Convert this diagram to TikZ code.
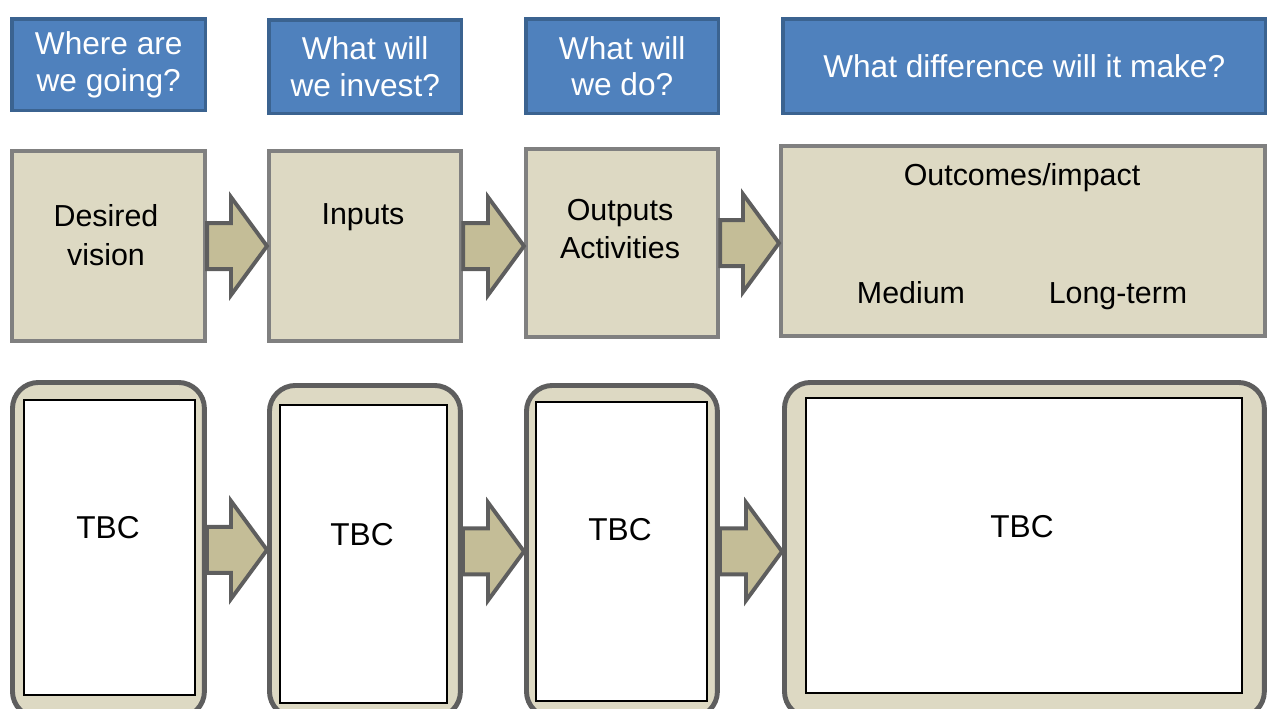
\documentclass[tikz,border=0pt]{standalone}
\usepackage{fontspec}
\setmainfont{Liberation Sans}
\usetikzlibrary{calc}

\definecolor{headblue}{HTML}{4F81BD}
\definecolor{headedge}{HTML}{3B6390}
\definecolor{stagetan}{HTML}{DDD9C3}
\definecolor{arrowtan}{HTML}{C4BD97}
\definecolor{stageedge}{HTML}{808080}
\definecolor{darkedge}{HTML}{5E5E5E}

\tikzset{
  question/.style={draw=headedge, fill=headblue, line width=2pt, text=white, align=center,
    inner sep=0pt, anchor=north west, font=\fontsize{18}{21}\selectfont},
  stage/.style={draw=stageedge, fill=stagetan, line width=2.4pt, inner sep=0pt, anchor=north west},
  stagetext/.style={align=center, font=\fontsize{17.3}{22}\selectfont},
  holder/.style={draw=darkedge, fill=stagetan, line width=2.8pt, rounded corners=0.52cm,
    inner sep=0pt, anchor=north west},
  blank/.style={draw=black, fill=white, line width=1pt, inner sep=0pt, anchor=north west},
  tbc/.style={font=\fontsize{18}{21}\selectfont},
  bigarrow/.style={draw=darkedge, fill=arrowtan, line width=2.2pt, line join=miter}
}

\begin{document}
\begin{tikzpicture}[x=0.02cm, y=-0.02cm]
  \useasboundingbox (0,0) rectangle (1267,709);

  % questions
  \node[question, minimum width=3.88cm, minimum height=1.84cm] (q1) at (10,17) {Where are\\we going?};
  \node[question, minimum width=3.86cm, minimum height=1.88cm] (q2) at (267,18) {What will\\we invest?};
  \node[question, minimum width=3.86cm, minimum height=1.90cm] (q3) at (524,17) {What will\\we do?};
  \node[question, minimum width=9.66cm, minimum height=1.90cm] (q4) at (781,17) {What difference will it make?};

  % stages
  \node[stage, minimum width=3.86cm, minimum height=3.80cm] (s1) at (10,149) {};
  \node[stage, minimum width=3.84cm, minimum height=3.80cm] (s2) at (267,149) {};
  \node[stage, minimum width=3.84cm, minimum height=3.76cm] (s3) at (524,147) {};
  \node[stage, minimum width=9.68cm, minimum height=3.80cm] (s4) at (779,144) {};
  \node[stagetext] (vision) at (106,235) {Desired\\vision};
  \node[stagetext] (inputs) at (363,217) {Inputs};
  \node[stagetext] (outputs) at (620,229) {Outputs\\Activities};
  \node[stagetext] (outcomes) at (1022,178) {Outcomes/impact};
  \node[stagetext, anchor=base] (medium) at (911,304) {Medium};
  \node[stagetext, anchor=base] (longterm) at (1118,304) {Long-term};

  % holders
  \node[holder, minimum width=3.84cm, minimum height=6.70cm] (r1) at (10,380) {};
  \node[holder, minimum width=3.82cm, minimum height=6.64cm] (r2) at (267,383) {};
  \node[holder, minimum width=3.82cm, minimum height=6.64cm] (r3) at (524,383) {};
  \node[holder, minimum width=9.60cm, minimum height=6.70cm] (r4) at (782,380) {};
  \node[blank, minimum width=3.42cm, minimum height=5.90cm] (b1) at (23,399) {};
  \node[blank, minimum width=3.34cm, minimum height=5.96cm] (b2) at (279,404) {};
  \node[blank, minimum width=3.42cm, minimum height=5.98cm] (b3) at (535,401) {};
  \node[blank, minimum width=8.72cm, minimum height=5.90cm] (b4) at (805,397) {};
  \node[tbc] (tbc1) at (108,528) {TBC};
  \node[tbc] (tbc2) at (362,535) {TBC};
  \node[tbc] (tbc3) at (620,530) {TBC};
  \node[tbc] (tbc4) at (1022,527) {TBC};

  % block arrows
  \foreach \a/\b in {s1/s2,s2/s3,s3/s4,r1/r2,r2/r3,r3/r4}{
    \coordinate (tip) at (\b.west |- \a.east);
    \filldraw[bigarrow] ($(\a.east)+(0,-23)$) -- ($(tip)+(-36,-23)$) -- ($(tip)+(-36,-49)$)
      -- (tip) -- ($(tip)+(-36,49)$) -- ($(tip)+(-36,23)$) -- ($(\a.east)+(0,23)$) -- cycle;
  }
\end{tikzpicture}
\end{document}
